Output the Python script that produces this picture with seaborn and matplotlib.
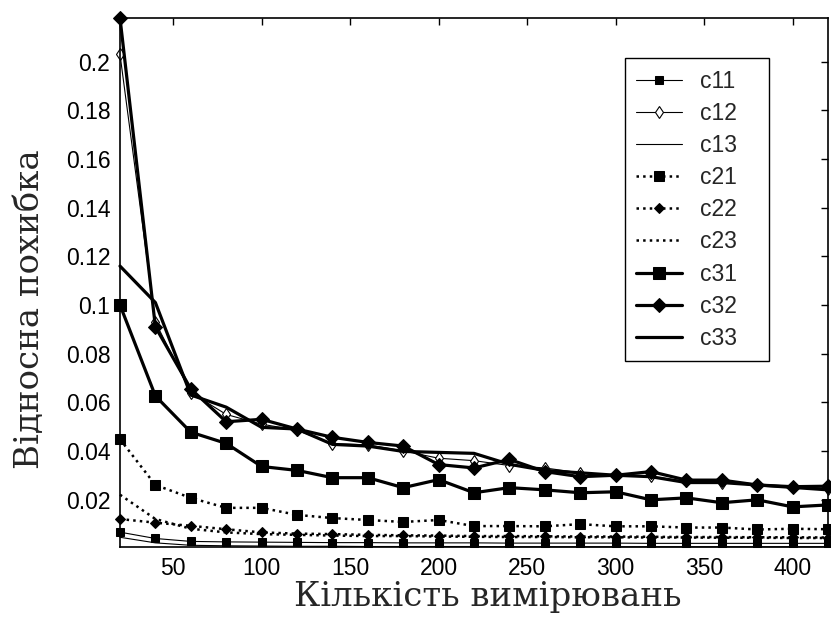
import matplotlib
matplotlib.use("Agg")
import matplotlib.pyplot as plt
import seaborn as sns
import pandas as pd

# ---- data ----
n_meas = [20, 40, 60, 80, 100, 120, 140, 160, 180, 200, 220, 240, 260, 280, 300, 320, 340, 360, 380, 400, 420]

c11 = [0.0066, 0.0040, 0.0028, 0.0026, 0.0025, 0.0024, 0.0023, 0.0023, 0.0022, 0.0022, 0.0022,
       0.0021, 0.0021, 0.0021, 0.0021, 0.0020, 0.0020, 0.0020, 0.0020, 0.0020, 0.0020]
c12 = [0.203, 0.093, 0.064, 0.055, 0.051, 0.0485, 0.043, 0.0425, 0.040, 0.037, 0.036,
       0.034, 0.033, 0.031, 0.030, 0.0295, 0.0275, 0.027, 0.026, 0.025, 0.0245]
c13 = [0.0045, 0.0022, 0.0012, 0.0010, 0.0009, 0.0008, 0.0008, 0.0007, 0.0007, 0.0007, 0.0007,
       0.0006, 0.0006, 0.0006, 0.0006, 0.0006, 0.0006, 0.0006, 0.0006, 0.0006, 0.0006]
c21 = [0.0448, 0.026, 0.0207, 0.0166, 0.0166, 0.0137, 0.0124, 0.0116, 0.0108, 0.0116, 0.0091,
       0.0091, 0.0090, 0.0099, 0.0090, 0.0090, 0.0085, 0.0085, 0.0077, 0.0080, 0.0078]
c22 = [0.012, 0.0105, 0.0092, 0.0078, 0.0065, 0.0060, 0.0058, 0.0055, 0.0053, 0.0052, 0.0050,
       0.0050, 0.0049, 0.0048, 0.0048, 0.0047, 0.0046, 0.0046, 0.0045, 0.0045, 0.0044]
c23 = [0.022, 0.012, 0.008, 0.0065, 0.0058, 0.0055, 0.0052, 0.0050, 0.0050, 0.0048, 0.0047,
       0.0046, 0.0046, 0.0045, 0.0045, 0.0044, 0.0044, 0.0043, 0.0043, 0.0042, 0.0042]
c31 = [0.100, 0.0626, 0.0477, 0.0431, 0.0336, 0.032, 0.029, 0.029, 0.0249, 0.0282, 0.0228,
       0.0249, 0.024, 0.0228, 0.0232, 0.0199, 0.0207, 0.0187, 0.0199, 0.017, 0.0178]
c32 = [0.218, 0.091, 0.0655, 0.052, 0.053, 0.049, 0.0456, 0.0435, 0.042, 0.0344, 0.033,
       0.0365, 0.0315, 0.0294, 0.030, 0.0315, 0.028, 0.028, 0.026, 0.0253, 0.0255]
c33 = [0.116, 0.101, 0.063, 0.058, 0.0497, 0.049, 0.0427, 0.042, 0.0398, 0.0394, 0.039,
       0.0345, 0.032, 0.031, 0.030, 0.0294, 0.027, 0.027, 0.026, 0.025, 0.024]

series_names = ["c11", "c12", "c13", "c21", "c22", "c23", "c31", "c32", "c33"]
series_values = [c11, c12, c13, c21, c22, c23, c31, c32, c33]

x_ticks = [50, 100, 150, 200, 250, 300, 350, 400]
y_ticks = [0.02, 0.04, 0.06, 0.08, 0.1, 0.12, 0.14, 0.16, 0.18, 0.2]
y_tick_labels = ["0.02", "0.04", "0.06", "0.08", "0.1", "0.12", "0.14", "0.16", "0.18", "0.2"]
x_label = "Кількість вимірювань"
y_label = "Відносна похибка"

# ---- styles ----
styles = {
    "c11": dict(ls="-", lw=0.8, marker="s", ms=5.5, mfc="black"),
    "c12": dict(ls="-", lw=0.8, marker="d", ms=6.5, mfc="white", mew=0.8),
    "c13": dict(ls="-", lw=0.8, marker=None),
    "c21": dict(ls=":", lw=1.8, marker="s", ms=7, mfc="black"),
    "c22": dict(ls=":", lw=1.8, marker="D", ms=5.5, mfc="black"),
    "c23": dict(ls=":", lw=1.8, marker=None),
    "c31": dict(ls="-", lw=2.3, marker="s", ms=8, mfc="black"),
    "c32": dict(ls="-", lw=2.3, marker="D", ms=7.5, mfc="black"),
    "c33": dict(ls="-", lw=2.3, marker=None),
}

sns.set_style("white")
plt.rcParams["font.family"] = ["Liberation Sans", "DejaVu Sans"]

fig = plt.figure(figsize=(8.31, 6.24), dpi=100)
ax = fig.add_axes([120 / 831, 1 - 547 / 624, 708 / 831, 529 / 624])

for name, vals in zip(series_names, series_values):
    df = pd.DataFrame({"n": n_meas, "err": vals})
    st = dict(styles[name])
    sns.lineplot(data=df, x="n", y="err", ax=ax, color="black", label=name,
                 linestyle=st.pop("ls"), linewidth=st.pop("lw"),
                 markeredgecolor="black", clip_on=False, **st)

ax.set_xlim(20, 420)
ax.set_ylim(0.0005, 0.218)
ax.set_xticks(x_ticks)
ax.set_xticklabels([str(t) for t in x_ticks])
ax.set_yticks(y_ticks)
ax.set_yticklabels(y_tick_labels)
ax.tick_params(direction="in", length=5, width=1, colors="black", labelsize=16.5,
               top=True, right=True, pad=7)
for sp in ax.spines.values():
    sp.set_visible(True)
    sp.set_color("black")
    sp.set_linewidth(1.2)

label_font = ["DejaVu Serif", "Liberation Serif"]
ax.set_xlabel(x_label, family=label_font, fontsize=24.5)
ax.xaxis.set_label_coords(0.52, -0.064)
ax.set_ylabel(y_label, family=label_font, fontsize=24.5)
ax.yaxis.set_label_coords(-0.104, 0.45)

leg = ax.legend(loc="upper left", bbox_to_anchor=(0.713, 0.363, 0.204, 0.561), mode="expand",
                fontsize=16.5, frameon=True, fancybox=False, framealpha=1, edgecolor="black",
                handlelength=2.0, handletextpad=0.8, labelspacing=0.4, borderpad=0.5,
                numpoints=1, borderaxespad=0)
leg.get_frame().set_linewidth(1.0)

fig.savefig("out.png", dpi=100, facecolor="white")
